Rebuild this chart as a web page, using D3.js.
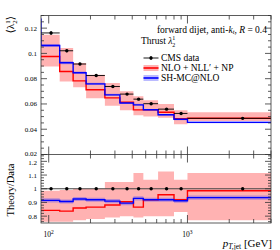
<!DOCTYPE html>
<html><head><meta charset="utf-8">
<script src="https://cdn.jsdelivr.net/npm/d3@7"></script>
<style>
html,body{margin:0;padding:0;background:#fff;}
svg{display:block;}
text{font-family:"Liberation Serif","DejaVu Serif",serif;fill:#000;}
</style></head><body>
<svg id="c" width="280" height="250"></svg>
<script>
// ---- data ----
const binEdges = [88,120,150,186,254,326,408,481,614,800,1000,4000];
const dataCenters = [104,135,168,220,290,367,444.5,547.5,707,900,2500];
const cmsData = [0.1162,0.1021,0.0916,0.0825,0.0738,0.0678,0.0638,0.0602,0.0559,0.0525,0.0486];
const cmsErr  = [0.0015,0.0012,0.0010,0.0009,0.0008,0.0008,0.0008,0.0008,0.0008,0.0008,0.0008];
const nloNll    = [0.0976,0.0857,0.0783,0.0712,0.0648,0.0614,0.0553,0.0554,0.0534,0.0483,0.0487];
const nloNllLow = [0.0897,0.0778,0.0733,0.0646,0.0585,0.0550,0.0510,0.0500,0.0490,0.0440,0.0466];
const nloNllHigh= [0.1148,0.1043,0.0924,0.0831,0.0765,0.0700,0.0660,0.0630,0.0600,0.0550,0.0535];
const shLeadEdge = 65, shLeadValue = 0.127;
const shMc     = [0.1063,0.0926,0.0847,0.0759,0.0672,0.0607,0.0593,0.0554,0.0514,0.0479,0.0454];
const shMcErr  = [0.0012,0.0011,0.0010,0.0009,0.0008,0.0008,0.0008,0.0007,0.0007,0.0007,0.0007];
// ratio panel
const ratioNlo     = [0.842,0.837,0.859,0.866,0.881,0.905,0.866,0.920,0.956,0.920,0.985];
const ratioNloLow  = [0.760,0.760,0.770,0.780,0.790,0.800,0.790,0.800,0.800,0.830,0.770];
const ratioNloHigh = [0.985,0.990,1.000,1.000,1.050,1.050,1.115,1.066,1.126,1.066,1.115];
const ratioSh      = [0.915,0.907,0.925,0.920,0.910,0.895,0.930,0.920,0.920,0.912,0.935];
const ratioShErr   = [0.015,0.015,0.015,0.015,0.015,0.015,0.015,0.015,0.015,0.015,0.015];
const mainTicks = [0.02,0.04,0.06,0.08,0.1,0.12];
const mainTickLabels = ["0.02","0.04","0.06","0.08","0.1","0.12"];
const ratioTicks = [0.8,0.9,1.0,1.1,1.2];
const ratioTickLabels = ["0.8","0.9","1","1.1","1.2"];
const xMajor = [100,1000];
const xMinor = [200,300,400,500,600,700,800,900,2000,3000,4000];

// ---- layout ----
const L=41, R=271, mT=15.5, mB=154.5, rB=223;
const svg = d3.select("#c");
const x = d3.scaleLog().domain([88,4000]).range([L,R]);
const yM = d3.scaleLinear().domain([0.02,0.13]).range([mB,mT]);
const yR = d3.scaleLinear().domain([0.75,1.25]).range([rB,mB]);

const defs = svg.append("defs");
defs.append("clipPath").attr("id","cm").append("rect").attr("x",L).attr("y",mT).attr("width",R-L).attr("height",mB-mT);
defs.append("clipPath").attr("id","cr").append("rect").attr("x",L).attr("y",mB).attr("width",R-L).attr("height",rB-mB);

const pink = "rgba(255,0,0,0.3)", lav = "rgba(60,60,255,0.35)";

function stepPts(vals){ const p = vals.map((v,i)=>[binEdges[i],v]); p.push([binEdges[binEdges.length-1], vals[vals.length-1]]); return p; }
function band(g, y, lo, hi, fill){
  const pts = lo.map((v,i)=>({e:binEdges[i],lo:v,hi:hi[i]}));
  pts.push({e:binEdges[binEdges.length-1],lo:lo[lo.length-1],hi:hi[hi.length-1]});
  g.append("path").attr("d", d3.area().curve(d3.curveStepAfter).x(d=>x(d.e)).y0(d=>y(d.lo)).y1(d=>y(d.hi))(pts)).attr("fill",fill);
}
function line(g, y, pts, col, w){
  g.append("path").attr("d", d3.line().curve(d3.curveStepAfter).x(d=>x(d[0])).y(d=>y(d[1]))(pts)).attr("fill","none").attr("stroke",col).attr("stroke-width",w);
}

// main panel
const gm = svg.append("g").attr("clip-path","url(#cm)");
band(gm, yM, nloNllLow, nloNllHigh, pink);
band(gm, yM, shMc.map((v,i)=>v-shMcErr[i]), shMc.map((v,i)=>v+shMcErr[i]), lav);
line(gm, yM, stepPts(nloNll), "#ff0000", 1.4);
line(gm, yM, [[shLeadEdge,shLeadValue]].concat(stepPts(shMc)), "#0000ff", 1.4);
cmsData.forEach((v,i)=>{
  gm.append("line").attr("x1",x(binEdges[i])).attr("x2",x(binEdges[i+1])).attr("y1",yM(v)).attr("y2",yM(v)).attr("stroke","#000").attr("stroke-width",0.9);
  gm.append("line").attr("x1",x(dataCenters[i])).attr("x2",x(dataCenters[i])).attr("y1",yM(v-cmsErr[i])).attr("y2",yM(v+cmsErr[i])).attr("stroke","#000").attr("stroke-width",0.9);
  gm.append("circle").attr("cx",x(dataCenters[i])).attr("cy",yM(v)).attr("r",1.7).attr("fill","#000");
});

// ratio panel
const gr = svg.append("g").attr("clip-path","url(#cr)");
band(gr, yR, ratioNloLow, ratioNloHigh, pink);
band(gr, yR, ratioSh.map((v,i)=>v-ratioShErr[i]), ratioSh.map((v,i)=>v+ratioShErr[i]), lav);
gr.append("line").attr("x1",L).attr("x2",R).attr("y1",yR(1)).attr("y2",yR(1)).attr("stroke","#444").attr("stroke-width",1);
line(gr, yR, stepPts(ratioNlo), "#ff0000", 1.4);
line(gr, yR, stepPts(ratioSh), "#0000ff", 1.4);
cmsData.forEach((v,i)=>{
  gr.append("circle").attr("cx",x(dataCenters[i])).attr("cy",yR(1)).attr("r",1.7).attr("fill","#000");
});

// frames & ticks
const ax = svg.append("g").attr("stroke","#333").attr("stroke-width",0.8).attr("fill","none");
ax.append("rect").attr("x",L).attr("y",mT).attr("width",R-L).attr("height",rB-mT);
ax.append("line").attr("x1",L).attr("x2",R).attr("y1",mB).attr("y2",mB);
function hTick(y,len){ ax.append("line").attr("x1",L).attr("x2",L+len).attr("y1",y).attr("y2",y); ax.append("line").attr("x1",R).attr("x2",R-len).attr("y1",y).attr("y2",y); }
d3.range(0.02,0.1301,0.005).forEach(v=>{ const major = mainTicks.some(t=>Math.abs(t-v)<1e-6); hTick(yM(v), major?6:3); });
d3.range(0.76,1.2401,0.02).forEach(v=>{ const major = ratioTicks.some(t=>Math.abs(t-v)<1e-6); hTick(yR(v), major?6:3); });
function vTicks(vals,len){
  vals.forEach(v=>{
    const xx=x(v);
    ax.append("line").attr("x1",xx).attr("x2",xx).attr("y1",mT).attr("y2",mT+len);
    ax.append("line").attr("x1",xx).attr("x2",xx).attr("y1",mB-len).attr("y2",mB+len);
    ax.append("line").attr("x1",xx).attr("x2",xx).attr("y1",rB).attr("y2",rB-len);
  });
}
vTicks(xMajor,8); vTicks(xMinor,4);

// tick labels
const tl = svg.append("g").attr("font-size",7).attr("text-anchor","end");
mainTicks.forEach((t,i)=>tl.append("text").attr("x",L-4).attr("y",yM(t)+(i===0?1.5:2.5)).text(mainTickLabels[i]));
ratioTicks.forEach((t,i)=>tl.append("text").attr("x",L-4).attr("y",yR(t)+(t===1.2?3.2:2.5)).text(ratioTickLabels[i]));
xMajor.forEach((t,i)=>{
  const tx = svg.append("text").attr("x",x(t)).attr("y",237).attr("font-size",7.5).attr("text-anchor","middle");
  tx.append("tspan").text("10");
  tx.append("tspan").attr("dy",-3).attr("font-size",5.5).text(i===0?"2":"3");
});

// axis titles
const yl = svg.append("text").attr("transform","translate(14,16) rotate(-90)").attr("text-anchor","end").attr("font-size",11);
yl.append("tspan").text("⟨λ");
yl.append("tspan").attr("font-size",7).attr("dy",-4).text("1");
yl.append("tspan").attr("font-size",7).attr("dx",-3.5).attr("dy",7).text("2");
yl.append("tspan").attr("dy",-3).text("⟩");
svg.append("text").attr("transform","translate(14,190) rotate(-90)").attr("text-anchor","middle").attr("font-size",10.5).text("Theory/Data");
const xl = svg.append("text").attr("x",272).attr("y",247).attr("text-anchor","end").attr("font-size",11);
xl.append("tspan").attr("font-style","italic").text("p");
xl.append("tspan").attr("font-size",7.5).attr("dy",2).attr("font-style","italic").text("T,");
xl.append("tspan").attr("font-size",7.5).text("jet");
xl.append("tspan").attr("dy",-2).text(" [GeV]");

// title
const t1 = svg.append("text").attr("x",267).attr("y",32.5).attr("text-anchor","end").attr("font-size",9.5);
t1.append("tspan").text("forward dijet, anti-");
t1.append("tspan").attr("font-style","italic").text("k");
t1.append("tspan").attr("font-style","italic").attr("font-size",6.5).attr("dy",1.2).text("t");
t1.append("tspan").attr("dy",-1.2).text(", ");
t1.append("tspan").attr("font-style","italic").text("R");
t1.append("tspan").text(" = 0.4");
const t2 = svg.append("text").attr("x",141).attr("y",43.5).attr("font-size",9.5);
t2.append("tspan").text("Thrust ");
t2.append("tspan").attr("font-style","italic").text("λ");
t2.append("tspan").attr("font-size",6).attr("dy",-3.5).text("1");
t2.append("tspan").attr("font-size",6).attr("dx",-3).attr("dy",6.5).text("2");

// legend
const lg = svg.append("g");
const lx0=143.5, lx1=158.5, ltx=161;
const ly = [58,68,78];
lg.append("line").attr("x1",lx0).attr("x2",lx1).attr("y1",ly[0]).attr("y2",ly[0]).attr("stroke","#000").attr("stroke-width",0.9);
lg.append("line").attr("x1",(lx0+lx1)/2).attr("x2",(lx0+lx1)/2).attr("y1",ly[0]-2).attr("y2",ly[0]+2).attr("stroke","#000").attr("stroke-width",0.9);
lg.append("circle").attr("cx",(lx0+lx1)/2).attr("cy",ly[0]).attr("r",1.7).attr("fill","#000");
lg.append("rect").attr("x",lx0).attr("y",ly[1]-3).attr("width",lx1-lx0).attr("height",6).attr("fill",pink);
lg.append("line").attr("x1",lx0).attr("x2",lx1).attr("y1",ly[1]).attr("y2",ly[1]).attr("stroke","#ff0000").attr("stroke-width",1.6);
lg.append("rect").attr("x",lx0).attr("y",ly[2]-3).attr("width",lx1-lx0).attr("height",6).attr("fill",lav);
lg.append("line").attr("x1",lx0).attr("x2",lx1).attr("y1",ly[2]).attr("y2",ly[2]).attr("stroke","#0000ff").attr("stroke-width",1.6);
lg.append("text").attr("x",ltx).attr("y",ly[0]+3).attr("font-size",9.5).text("CMS data");
lg.append("text").attr("x",ltx).attr("y",ly[1]+3).attr("font-size",9.5).text("NLO + NLL′ + NP");
lg.append("text").attr("x",ltx).attr("y",ly[2]+3).attr("font-size",9.5).text("SH-MC@NLO");
</script>
</body></html>
